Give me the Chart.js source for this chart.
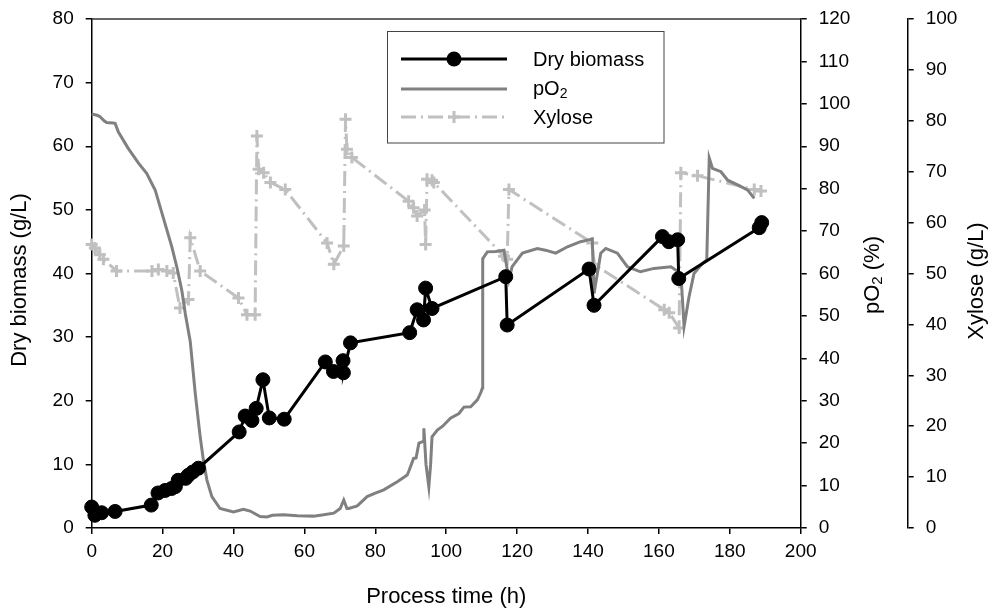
<!DOCTYPE html>
<html lang="en">
<head>
    <meta charset="UTF-8">
    <title>Dry biomass, pO2 and xylose</title>
    <script src="https://cdn.jsdelivr.net/npm/chart.js"></script>
    <style>
        body { margin: 0; background: #fff; }
        #wrap { width: 993px; height: 614px; }
    </style>
</head>
<body>
    <div id="wrap"><canvas id="chart"></canvas></div>

    <script>
        // Dry biomass (g/L) - left axis
        var bioTime  = [0, 0.9, 2.8, 6.6, 16.8, 18.7, 20.7, 22.5, 23.6, 24.4, 26.5, 27.3, 28.5, 30.1,
                        41.6, 43.3, 45.2, 46.4, 48.3, 50.1, 54.3, 65.9, 68.2, 70.9, 71.0, 73.0,
                        89.7, 91.8, 93.6, 94.2, 96.0, 116.8, 117.2, 140.3, 141.7,
                        161.0, 162.8, 165.3, 165.6, 188.3, 189.0];
        var bioValue = [3.3, 2.0, 2.4, 2.6, 3.6, 5.5, 5.9, 6.2, 6.5, 7.5, 7.8, 8.3, 8.8, 9.4,
                        15.1, 17.6, 16.9, 18.8, 23.3, 17.3, 17.1, 26.1, 24.6, 26.3, 24.4, 29.1,
                        30.7, 34.3, 32.7, 37.7, 34.5, 39.5, 31.9, 40.7, 35.0,
                        45.8, 45.0, 45.3, 39.2, 47.2, 48.0];

        // pO2 (%) - first right axis
        var o2Time  = [0, 1.5, 2.3, 3.5, 4.2, 6.0, 6.6, 7.5, 10.3, 13.2, 15.5, 17.9, 19.3, 21.2, 22.6, 24.0,
                       25.4, 26.4, 27.8, 29.2, 30.6, 31.5, 32.5, 33.9, 36.2, 40.0, 42.8, 44.7, 47.5, 49.4,
                       51.0, 54.1, 58.0, 62.6, 65.4, 68.3, 70.1, 71.1, 72.0, 72.5, 74.9, 77.7, 80.0, 82.4,
                       86.2, 89.0, 89.5, 90.8, 91.5, 92.3, 93.5, 93.7, 94.3, 95.1, 95.6, 96.0, 97.5, 99.0,
                       101.2, 103.6, 105.0, 106.9, 108.8, 109.8, 110.2, 110.3, 111.6, 114.0, 116.3, 117.7,
                       118.6, 121.5, 125.7, 128.0, 130.9, 134.2, 137.9, 141.2, 141.7, 143.6, 145.0, 148.3,
                       151.1, 154.8, 158.6, 163.4, 166.2, 167.1, 168.5, 169.9, 172.3, 173.5, 174.2, 175.1,
                       177.5, 179.4, 182.2, 185.0, 186.9];
        var o2Value = [97.6, 97.3, 97.0, 96.0, 95.6, 95.5, 95.4, 93.4, 89.5, 86.0, 83.6, 79.7, 75.7, 70.3, 66.3, 61.6,
                       56.1, 50.5, 44.0, 31.8, 21.5, 16.0, 11.3, 7.4, 4.6, 3.8, 4.4, 4.0, 2.7, 2.6,
                       3.0, 3.1, 2.9, 2.8, 3.1, 3.5, 4.6, 6.6, 4.6, 4.6, 5.2, 7.4, 8.2, 9.0,
                       10.9, 12.5, 13.5, 16.4, 16.5, 20.0, 20.4, 23.5, 15.0, 9.7, 15.0, 21.5, 23.1, 24.0,
                       25.9, 27.0, 28.5, 28.6, 30.2, 32.0, 33.0, 63.5, 65.1, 65.2, 65.5, 58.5,
                       61.6, 64.8, 65.9, 65.5, 64.8, 66.3, 67.5, 68.1, 55.3, 64.8, 65.9, 64.8,
                       61.6, 60.4, 61.2, 61.6, 60.0, 47.5, 54.5, 60.0, 62.4, 63.2, 87.2, 84.8,
                       84.0, 82.0, 80.9, 79.7, 77.7];

        // Xylose (g/L) - outer right axis
        var xylTime  = [0, 0.9, 2.3, 3.3, 7.0, 17.0, 18.8, 21.2, 23.0, 24.9, 27.3, 27.8, 30.6,
                        41.4, 43.8, 46.1, 46.6, 47.1, 48.5, 50.4, 54.6, 66.4, 68.3, 71.1, 71.6, 72.0, 73.4,
                        89.4, 90.8, 91.8, 93.9, 94.2, 94.6, 96.0, 96.5, 116.3, 117.2, 117.7,
                        141.2, 141.7, 161.5, 162.9, 165.7, 166.2, 170.9, 186.9, 188.8];
        var xylValue = [55.7, 55.0, 53.7, 52.8, 50.5, 50.5, 50.8, 50.5, 50.1, 43.2, 44.9, 57.0, 50.5,
                        45.2, 41.9, 41.9, 77.0, 70.5, 69.8, 67.9, 66.5, 56.0, 51.8, 55.4, 80.3, 74.4, 72.8,
                        64.2, 62.9, 61.3, 62.5, 55.7, 68.5, 68.3, 67.9, 53.4, 52.8, 66.5,
                        56.0, 51.8, 42.9, 42.3, 39.3, 69.8, 69.2, 66.5, 66.2];

        var FONT = "'Liberation Sans', Arial, sans-serif";

        function toPoints(xs, ys) {
            return xs.map(function(x, i) { return { x: x, y: ys[i] }; });
        }

        // small lineHeight so the tick labels don't push the plot area down
        function axisTicks(size) {
            return { color: '#000', font: { family: FONT, size: size, lineHeight: 0.5 }, padding: 12, stepSize: 10 };
        }

        function axisGrid() {
            return { drawOnChartArea: false, drawTicks: true, tickLength: 6, color: '#000', lineWidth: 1.5 };
        }

        // draws text made of parts [text, size, dy] (used for the subscript in pO2)
        function drawParts(ctx, parts, x, y, align) {
            var total = 0;
            parts.forEach(function(p) {
                ctx.font = p[1] + 'px ' + FONT;
                total += ctx.measureText(p[0]).width;
            });
            var cx = align === 'center' ? x - total / 2 : x;
            ctx.textAlign = 'left';
            ctx.textBaseline = 'middle';
            parts.forEach(function(p) {
                ctx.font = p[1] + 'px ' + FONT;
                ctx.fillText(p[0], cx, y + p[2]);
                cx += ctx.measureText(p[0]).width;
            });
        }

        function verticalTitle(ctx, parts, x, y) {
            ctx.save();
            ctx.translate(x, y);
            ctx.rotate(-Math.PI / 2);
            drawParts(ctx, parts, 0, 0, 'center');
            ctx.restore();
        }

        var extras = {
            id: 'extras',
            afterDatasetsDraw: function(chart) {
                var ctx = chart.ctx;
                var a = chart.chartArea;
                ctx.save();

                // top frame line
                ctx.strokeStyle = '#333';
                ctx.lineWidth = 1.5;
                ctx.beginPath();
                ctx.moveTo(a.left, a.top);
                ctx.lineTo(a.right, a.top);
                ctx.stroke();

                // y axis titles (all read bottom to top)
                ctx.fillStyle = '#000';
                verticalTitle(ctx, [['Dry biomass (g/L)', 22, 0]], 20, 280);
                verticalTitle(ctx, [['pO', 22, 0], ['2', 15, 5], [' (%)', 22, 0]], 873, 275);
                verticalTitle(ctx, [['Xylose (g/L)', 22, 0]], 977, 281);

                // legend box
                ctx.fillStyle = '#fff';
                ctx.fillRect(387.5, 31.5, 276.5, 111.5);
                ctx.strokeStyle = '#444';
                ctx.lineWidth = 1;
                ctx.strokeRect(387.5, 31.5, 276.5, 111.5);

                ctx.lineWidth = 3;
                ctx.strokeStyle = '#000';
                ctx.beginPath(); ctx.moveTo(401, 59); ctx.lineTo(507, 59); ctx.stroke();
                ctx.fillStyle = '#000';
                ctx.beginPath(); ctx.arc(454, 59, 7.5, 0, Math.PI * 2); ctx.fill();

                ctx.strokeStyle = '#808080';
                ctx.beginPath(); ctx.moveTo(401, 89); ctx.lineTo(507, 89); ctx.stroke();

                ctx.strokeStyle = '#c0c0c0';
                ctx.setLineDash([15, 5, 2, 5]);
                ctx.beginPath(); ctx.moveTo(401, 117); ctx.lineTo(507, 117); ctx.stroke();
                ctx.setLineDash([]);
                ctx.beginPath();
                ctx.moveTo(448, 117); ctx.lineTo(460, 117);
                ctx.moveTo(454, 111); ctx.lineTo(454, 123);
                ctx.stroke();

                ctx.fillStyle = '#000';
                drawParts(ctx, [['Dry biomass', 20, 0]], 533, 60, 'left');
                drawParts(ctx, [['pO', 20, 0], ['2', 14, 5]], 533, 89, 'left');
                drawParts(ctx, [['Xylose', 20, 0]], 533, 118, 'left');

                ctx.restore();
            }
        };

        var ctx = document.getElementById('chart').getContext('2d');

        var chart = new Chart(ctx, {
            type: 'line',
            data: {
                datasets: [{
                    label: 'Dry biomass',
                    data: toPoints(bioTime, bioValue),
                    yAxisID: 'y',
                    borderColor: '#000',
                    borderWidth: 3,
                    backgroundColor: '#000',
                    pointRadius: 7,
                    pointBorderWidth: 1,
                    pointBorderColor: '#000',
                    pointBackgroundColor: '#000',
                    clip: false
                }, {
                    label: 'pO2',
                    data: toPoints(o2Time, o2Value),
                    yAxisID: 'y1',
                    borderColor: '#808080',
                    borderWidth: 3,
                    pointRadius: 0,
                    clip: false
                }, {
                    label: 'Xylose',
                    data: toPoints(xylTime, xylValue),
                    yAxisID: 'y2',
                    borderColor: '#c0c0c0',
                    borderWidth: 3,
                    borderDash: [15, 5, 2, 5],
                    pointStyle: 'cross',
                    pointRadius: 6,
                    pointBorderWidth: 3,
                    pointBorderColor: '#c0c0c0',
                    clip: false
                }]
            },
            options: {
                responsive: true,
                maintainAspectRatio: false,
                animation: false,
                events: [],
                layout: { padding: { top: 19, left: 0, right: 0, bottom: 0 } },
                plugins: {
                    legend: { display: false },
                    tooltip: { enabled: false }
                },
                scales: {
                    x: {
                        type: 'linear',
                        min: 0,
                        max: 200,
                        ticks: { stepSize: 20, color: '#000', font: { family: FONT, size: 19 }, padding: 6, maxRotation: 0 },
                        grid: axisGrid(),
                        border: { color: '#000', width: 1.5 },
                        title: { display: true, text: 'Process time (h)', color: '#000', font: { family: FONT, size: 22 }, padding: { top: 4, bottom: 4 } },
                        afterFit: function(scale) { scale.height = 86; }
                    },
                    y: {
                        position: 'left',
                        min: 0,
                        max: 80,
                        ticks: axisTicks(19),
                        grid: axisGrid(),
                        border: { color: '#000', width: 1.5 },
                        afterFit: function(scale) { scale.width = 91.7; }
                    },
                    y1: {
                        position: 'right',
                        weight: 0,
                        min: 0,
                        max: 120,
                        ticks: axisTicks(19),
                        grid: axisGrid(),
                        border: { color: '#000', width: 1.5 },
                        afterFit: function(scale) { scale.width = 107; }
                    },
                    y2: {
                        position: 'right',
                        weight: 1,
                        min: 0,
                        max: 100,
                        ticks: axisTicks(19),
                        grid: axisGrid(),
                        border: { color: '#000', width: 1.5 },
                        afterFit: function(scale) { scale.width = 85.3; }
                    }
                }
            },
            plugins: [extras]
        });
    </script>
</body>
</html>
